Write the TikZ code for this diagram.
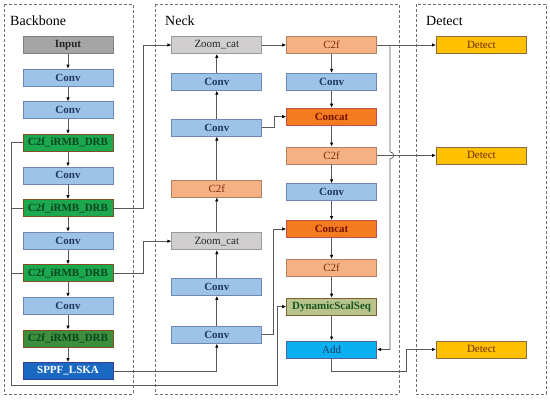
\documentclass[tikz,border=0pt]{standalone}
\usepackage{fontspec}
\setmainfont{Liberation Serif}
\usepackage{tikz}
\usetikzlibrary{positioning, arrows.meta, calc}
\definecolor{linecolor}{RGB}{89,89,89}
\definecolor{panelcolor}{RGB}{110,110,110}
\definecolor{inputcolor}{RGB}{165,165,165}
\definecolor{convcolor}{RGB}{157,195,230}
\definecolor{convborder}{RGB}{111,134,184}
\definecolor{convtext}{RGB}{31,56,100}
\definecolor{irmbcolor}{RGB}{28,168,78}
\definecolor{irmbdark}{RGB}{61,143,61}
\definecolor{irmbborder}{RGB}{128,80,35}
\definecolor{irmbtext}{RGB}{10,70,30}
\definecolor{sppfcolor}{RGB}{25,105,195}
\definecolor{sppfborder}{RGB}{60,60,155}
\definecolor{zoomcolor}{RGB}{208,206,206}
\definecolor{c2fcolor}{RGB}{244,177,131}
\definecolor{c2fborder}{RGB}{175,130,100}
\definecolor{c2ftext}{RGB}{132,40,12}
\definecolor{concatcolor}{RGB}{244,123,32}
\definecolor{concatborder}{RGB}{192,80,77}
\definecolor{concattext}{RGB}{120,20,0}
\definecolor{dsscolor}{RGB}{184,196,140}
\definecolor{dssborder}{RGB}{125,95,50}
\definecolor{dsstext}{RGB}{25,85,30}
\definecolor{addcolor}{RGB}{11,176,240}
\definecolor{addborder}{RGB}{80,96,160}
\definecolor{detectcolor}{RGB}{255,192,0}
\definecolor{detectborder}{RGB}{140,107,60}
\definecolor{detecttext}{RGB}{107,42,0}

\begin{document}
\begin{tikzpicture}[
    x=1pt, y=-1pt,
    node distance=14.8pt,
    arrow/.style={-{Latex[length=4pt, width=3.4pt, color=black]}, line width=0.7pt, color=linecolor},
    link/.style={line width=0.7pt, color=linecolor},
    panel/.style={draw=panelcolor, line width=0.8pt, dash pattern=on 3pt off 2pt},
    paneltitle/.style={font=\fontsize{14}{16}\selectfont, anchor=base west, inner sep=0pt},
    block/.style={
        rectangle,
        minimum width=90pt,
        minimum height=17pt,
        inner sep=0pt,
        line width=0.8pt,
        text centered,
        font=\fontsize{11}{12}\selectfont
    },
    boldblock/.style={block, font=\fontsize{11}{12}\selectfont\bfseries},
    inputbox/.style={boldblock, fill=inputcolor, draw=gray, text=black!85},
    convbox/.style={boldblock, fill=convcolor, draw=convborder, text=convtext},
    irmbbox/.style={boldblock, fill=irmbcolor, draw=irmbborder, text=irmbtext},
    irmbdarkbox/.style={irmbbox, fill=irmbdark},
    sppfbox/.style={boldblock, fill=sppfcolor, draw=sppfborder, text=white},
    zoombox/.style={block, fill=zoomcolor, draw=gray!80, text=black!85},
    c2fbox/.style={block, fill=c2fcolor, draw=c2fborder, text=c2ftext},
    concatbox/.style={boldblock, fill=concatcolor, draw=concatborder, text=concattext},
    dssbox/.style={boldblock, fill=dsscolor, draw=dssborder, text=dsstext},
    addbox/.style={block, fill=addcolor, draw=addborder, text=convtext},
    detectbox/.style={block, fill=detectcolor, draw=detectborder, text=detecttext}
]

\useasboundingbox (0,0) rectangle (550,400);

%% PANELS %%
\draw [panel] (4,4) rectangle (133,394);
\draw [panel] (155,4) rectangle (399,394);
\draw [panel] (416,4) rectangle (546,394);

\node (bbtitle) [paneltitle] at (10,25) {Backbone};
\node (necktitle) [paneltitle] at (165,25) {Neck};
\node (dettitle) [paneltitle] at (426,25) {Detect};

%% BACKBONE %%
\node (input) [inputbox] at (68,45) {Input};
\node (bconv1) [convbox, below=of input] {Conv};
\node (bconv2) [convbox, below=of bconv1] {Conv};
\node (birmb1) [irmbbox, below=of bconv2] {C2f\_iRMB\_DRB};
\node (bconv3) [convbox, below=of birmb1] {Conv};
\node (birmb2) [irmbbox, below=of bconv3] {C2f\_iRMB\_DRB};
\node (bconv4) [convbox, below=of birmb2] {Conv};
\node (birmb3) [irmbbox, below=of bconv4] {C2f\_iRMB\_DRB};
\node (bconv5) [convbox, below=of birmb3] {Conv};
\node (birmb4) [irmbdarkbox, below=of bconv5] {C2f\_iRMB\_DRB};
\node (sppf) [sppfbox, below=of birmb4] {SPPF\_LSKA};

%% NECK - left column (upward) %%
\node (nzoom1) [zoombox, right=58pt of input] {Zoom\_cat};
\node (nconv1) [convbox, below=19pt of nzoom1] {Conv};
\node (nconv2) [convbox, below=28pt of nconv1] {Conv};
\node (nc2f1) [c2fbox, below=43pt of nconv2] {C2f};
\node (nzoom2) [zoombox, below=35pt of nc2f1] {Zoom\_cat};
\node (nconv3) [convbox, below=28pt of nzoom2] {Conv};
\node (nconv4) [convbox, below=30pt of nconv3] {Conv};

%% NECK - right column (downward) %%
\node (nc2f2) [c2fbox, right=24pt of nzoom1] {C2f};
\node (nconv5) [convbox, below=19pt of nc2f2] {Conv};
\node (ncat1) [concatbox, below=17pt of nconv5] {Concat};
\node (nc2f3) [c2fbox, below=21pt of ncat1] {C2f};
\node (nconv6) [convbox, below=19pt of nc2f3] {Conv};
\node (ncat2) [concatbox, below=19pt of nconv6] {Concat};
\node (nc2f4) [c2fbox, below=21pt of ncat2] {C2f};
\node (dss) [dssbox, below=21pt of nc2f4] {DynamicScalSeq};
\node (add) [addbox, below=25pt of dss] {Add};

%% DETECT %%
\node (det1) [detectbox, right=59pt of nc2f2] {Detect};
\node (det2) [detectbox, right=59pt of nc2f3] {Detect};
\node (det3) [detectbox, right=59pt of add] {Detect};

%% ARROWS %%
\foreach \a/\b in {input/bconv1, bconv1/bconv2, bconv2/birmb1, birmb1/bconv3, bconv3/birmb2,
    birmb2/bconv4, bconv4/birmb3, birmb3/bconv5, bconv5/birmb4, birmb4/sppf}
    \draw [arrow] (\a) -- (\b);

\foreach \a/\b in {nconv4/nconv3, nconv3/nzoom2, nzoom2/nc2f1, nc2f1/nconv2, nconv2/nconv1, nconv1/nzoom1}
    \draw [arrow] (\a) -- (\b);

\foreach \a/\b in {nc2f2/nconv5, nconv5/ncat1, ncat1/nc2f3, nc2f3/nconv6, nconv6/ncat2,
    ncat2/nc2f4, nc2f4/dss, dss/add}
    \draw [arrow] (\a) -- (\b);

% backbone to neck
\coordinate (lowbus) at (11,385);
\coordinate (dssbus) at (277,385);
\draw [arrow] (birmb1.west) -| (lowbus) -- (dssbus) |- (dss.west);
\draw [link] (birmb2.west) -- (birmb2.west -| lowbus);
\draw [link] (birmb3.west) -- (birmb3.west -| lowbus);

\draw [arrow] (birmb2.east) -- ++(30,0) |- (nzoom1.west);
\draw [arrow] (birmb3.east) -- ++(30,0) |- (nzoom2.west);
\draw [arrow] (sppf.east) -| (nconv4.south);

% inside neck
\draw [arrow] (nzoom1) -- (nc2f2);
\draw [arrow] (nconv2.east) -- ++(12,0) |- (ncat1.west);
\draw [arrow] (nconv4.east) -- ++(11,0) |- (ncat2.west);

% to detect
\draw [arrow] (nc2f2) -- (det1);
\draw [arrow] (nc2f3) -- (det2);

\coordinate (branch) at ($(nc2f2.east)+(13,0)$);
\coordinate (hopin) at ($(branch |- nc2f3.east)+(0,-3.5)$);
\coordinate (hopout) at ($(branch |- nc2f3.east)+(0,3.5)$);
\draw [arrow] (branch) -- (hopin) .. controls +(5,0) and +(5,0) .. (hopout) |- (add.east);

\coordinate (jog) at ($(add.south)+(75,13)$);
\draw [arrow] (add.south) |- (jog) |- (det3.west);

\end{tikzpicture}
\end{document}
